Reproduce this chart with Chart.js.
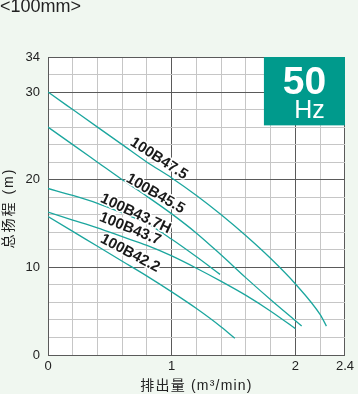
<!DOCTYPE html>
<html><head><meta charset="utf-8">
<script src="https://cdn.jsdelivr.net/npm/chart.js@4"></script>
<style>
html,body{margin:0;padding:0;background:#f0f7f0;}
#wrap{position:relative;width:358px;height:394px;overflow:hidden;}
#hdr{position:absolute;left:0;top:-4px;font:18px "Liberation Sans",Arial,sans-serif;color:#222;}
canvas{position:absolute;left:0;top:0;}
</style></head><body>
<div id="wrap"><canvas id="c" width="358" height="394"></canvas><div id="hdr">&lt;100mm&gt;</div></div>
<script>
// ---- data ----
const seriesNames = ['100B47.5','100B45.5','100B43.7H','100B43.7','100B42.2'];
const flow475 = [0,0.2,0.4,0.6,0.8,1.0,1.2,1.4,1.6,1.8,2.0,2.2,2.25];
const head475 = [30,28.0,26.0,24.0,22.0,20.2,18.2,16.0,13.6,11.0,8.1,4.6,3.3];
const flow455 = [0,0.2,0.4,0.6,0.8,1.0,1.2,1.4,1.6,1.8,2.0,2.05];
const head455 = [26,24.0,22.0,20.0,18.1,16.1,13.9,11.4,8.8,6.3,3.9,3.3];
const flow437H = [0,0.2,0.4,0.6,0.8,1.0,1.2,1.39];
const head437H = [19,18.2,17.3,16.2,15.0,13.2,11.2,9.2];
const flow437 = [0,0.2,0.4,0.6,0.8,1.0,1.2,1.4,1.6,1.8,2.0];
const head437 = [16.3,15.4,14.5,13.5,12.5,11.3,9.9,8.4,6.8,5.0,3.0];
const flow422 = [0,0.2,0.4,0.6,0.8,1.0,1.2,1.4,1.51];
const head422 = [15.8,14.1,12.4,10.7,9.0,7.2,5.3,3.2,1.9];
const xTickLabels = [0,1,2,2.4];
const yTickLabels = [0,10,20,30,34];
const xMajor = [1,2,2.4];
const yMajor = [10,20,30,34];
const xTitle = '排出量 (m³/min)';
const yTitle = '总扬程 (m)';
const freqText = ['50','Hz'];

// ---- styling / layout ----
const LINE = '#1ba69e';
const BOX = '#009a8c';
const MINOR = '#c6c6c6';
const MAJOR = '#5a5a5a';
const FONT = '"Liberation Sans", Arial, "Noto Sans CJK SC", sans-serif';
const flows = [flow475, flow455, flow437H, flow437, flow422];
const heads = [head475, head455, head437H, head437, head422];
// label anchors (data coords) and rotations (deg)
const labelPlace = [
  {x:0.896, y:22.4, a:33},
  {x:0.868, y:18.4, a:30},
  {x:0.709, y:16.1, a:25},
  {x:0.664, y:14.4, a:22},
  {x:0.664, y:11.6, a:28}
];
const boxArea = {x0:1.745, x1:2.4, y0:26.2, y1:34};

const near = (a,b)=>Math.abs(a-b)<1e-6;
const steps = (max, step) => { const r=[]; for(let i=0;i<=Math.round(max/step);i++) r.push(Math.round(i*step*100)/100); return r; };

const datasets = seriesNames.map((n,i)=>({
  label:n,
  data: flows[i].map((f,j)=>({x:f, y:heads[i][j]})),
  showLine:true, borderColor:LINE, borderWidth:1.3, pointRadius:0,
  cubicInterpolationMode:'monotone', fill:false
}));

const bgPlugin = {
  id:'bg',
  beforeDraw(chart){
    const {ctx, chartArea:a} = chart;
    ctx.save(); ctx.fillStyle='#ffffff';
    ctx.fillRect(a.left,a.top,a.right-a.left,a.bottom-a.top); ctx.restore();
  }
};
const decoPlugin = {
  id:'deco',
  afterDraw(chart){
    const {ctx, chartArea:a, scales:{x,y}} = chart;
    ctx.save();
    // axis titles
    ctx.fillStyle='#222';
    ctx.font='14px '+FONT;
    ctx.textAlign='center'; ctx.textBaseline='middle';
    try{ ctx.letterSpacing='1.2px'; }catch(e){}
    ctx.fillText(xTitle, (a.left+a.right)/2, 386);
    try{ ctx.letterSpacing='2px'; }catch(e){}
    ctx.save();
    ctx.translate(9, (a.top+a.bottom)/2+2);
    ctx.rotate(-Math.PI/2);
    ctx.fillText(yTitle, 0, 0);
    ctx.restore();
    try{ ctx.letterSpacing='0px'; }catch(e){}
    // series labels
    ctx.font = 'bold 15px '+FONT;
    ctx.textAlign='center'; ctx.textBaseline='middle';
    seriesNames.forEach((n,i)=>{
      const p = labelPlace[i];
      ctx.save();
      ctx.translate(x.getPixelForValue(p.x), y.getPixelForValue(p.y));
      ctx.rotate(p.a*Math.PI/180);
      ctx.lineWidth=3; ctx.strokeStyle='#ffffff'; ctx.lineJoin='round';
      ctx.strokeText(n,0,0);
      ctx.fillStyle='#1a1a1a';
      ctx.fillText(n,0,0);
      ctx.restore();
    });
    // 50Hz box
    const bx0=x.getPixelForValue(boxArea.x0), bx1=x.getPixelForValue(boxArea.x1);
    const by0=y.getPixelForValue(boxArea.y1), by1=y.getPixelForValue(boxArea.y0);
    ctx.fillStyle=BOX;
    ctx.fillRect(bx0,by0,bx1-bx0,by1-by0);
    ctx.fillStyle='#ffffff';
    ctx.textAlign='center'; ctx.textBaseline='alphabetic';
    ctx.font='bold 39px '+FONT;
    ctx.fillText(freqText[0], (bx0+bx1)/2, by0+37);
    ctx.font='25px '+FONT;
    ctx.fillText(freqText[1], (bx0+bx1)/2+5, by0+61);
    ctx.restore();
  }
};

new Chart(document.getElementById('c'), {
  type:'scatter',
  data:{datasets},
  options:{
    responsive:false, animation:false, devicePixelRatio:1,
    layout:{padding:{top:57,right:11,left:0,bottom:0}},
    plugins:{legend:{display:false}, tooltip:{enabled:false}},
    scales:{
      x:{
        type:'linear', min:0, max:2.4,
        afterBuildTicks(s){ s.ticks = steps(2.4,0.2).map(v=>({value:v})); },
        afterFit(s){ s.height = 39; },
        ticks:{ autoSkip:false, maxRotation:0, padding:4, color:'#222', font:{family:FONT,size:13},
          callback(v){ return xTickLabels.some(t=>near(t,v)) ? String(v) : ''; } },
        grid:{ drawTicks:false, lineWidth:1,
          color(c){ return xMajor.some(t=>near(t,c.tick.value)) ? MAJOR : MINOR; } },
        border:{ color:MAJOR, width:1 },
        title:{ display:false }
      },
      y:{
        type:'linear', min:0, max:34,
        afterBuildTicks(s){ s.ticks = steps(34,2).map(v=>({value:v})); },
        afterFit(s){ s.width = 48; },
        ticks:{ autoSkip:false, padding:8, color:'#222', font:{family:FONT,size:13},
          callback(v){ return yTickLabels.some(t=>near(t,v)) ? String(v) : ''; } },
        grid:{ drawTicks:false, lineWidth:1,
          color(c){ return yMajor.some(t=>near(t,c.tick.value)) ? MAJOR : MINOR; } },
        border:{ color:MAJOR, width:1 },
        title:{ display:false }
      }
    }
  },
  plugins:[bgPlugin, decoPlugin]
});
</script>
</body></html>
